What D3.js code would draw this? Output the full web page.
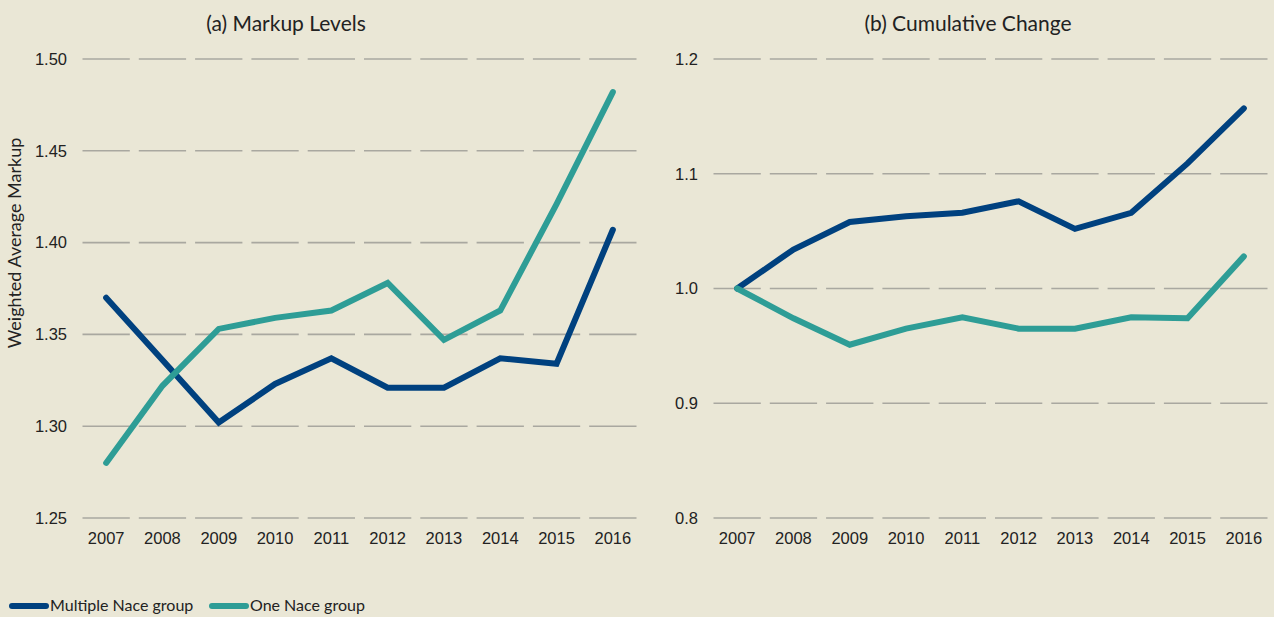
<!DOCTYPE html>
<html>
<head>
<meta charset="utf-8">
<script src="https://cdn.jsdelivr.net/npm/d3@7"></script>
<style>
  body { margin: 0; background: #eae7d6; }
  svg { display: block; font-family: Lato, 'Open Sans', sans-serif; }
  .tick text { font-size: 16.5px; fill: #222; }
  .title { font-size: 21px; fill: #222; }
  .label { font-size: 16px; fill: #222; }
</style>
</head>
<body>
<svg width="1274" height="617"></svg>
<script>
const years = ['2007', '2008', '2009', '2010', '2011', '2012', '2013', '2014', '2015', '2016'];

const levelsMultiple = [1.370, 1.336, 1.302, 1.323, 1.337, 1.321, 1.321, 1.337, 1.334, 1.407];
const levelsOne = [1.280, 1.322, 1.353, 1.359, 1.363, 1.378, 1.347, 1.363, 1.421, 1.482];

const changeMultiple = [1.0, 1.034, 1.058, 1.063, 1.066, 1.076, 1.052, 1.066, 1.109, 1.157];
const changeOne = [1.0, 0.974, 0.951, 0.965, 0.975, 0.965, 0.965, 0.975, 0.974, 1.028];

const levelTicks = [1.25, 1.30, 1.35, 1.40, 1.45, 1.50];
const changeTicks = [0.8, 0.9, 1.0, 1.1, 1.2];

const seriesNames = ['Multiple Nace group', 'One Nace group'];
const colors = ['#00417f', '#2e9d96'];

const svg = d3.select('svg');

svg.append('rect')
    .attr('width', 1274)
    .attr('height', 617)
    .attr('fill', '#eae7d6');

const plotTop = 59;
const plotBottom = 518;

function drawPanel(x0, x1, ticks, fmt, series, title, titleX) {
    const xScale = d3.scaleBand()
        .domain(years)
        .range([x0, x1]);

    const yScale = d3.scaleLinear()
        .domain([ticks[0], ticks[ticks.length - 1]])
        .range([plotBottom, plotTop]);

    const g = svg.append('g');

    // gridlines broken into one segment per year
    const bw = xScale.bandwidth();
    ticks.forEach((t) => {
        g.selectAll(null)
            .data(years)
            .enter()
            .append('line')
            .attr('x1', (d) => xScale(d) + 4.5)
            .attr('x2', (d) => xScale(d) + bw - 4.5)
            .attr('y1', yScale(t))
            .attr('y2', yScale(t))
            .attr('stroke', '#a9a8a0')
            .attr('stroke-width', 1.6);
    });

    const yAxis = g.append('g')
        .attr('transform', `translate(${x0 - 8}, 0)`)
        .call(d3.axisLeft(yScale).tickValues(ticks).tickFormat(fmt).tickSize(0));
    yAxis.select('.domain').remove();

    const xAxis = g.append('g')
        .attr('transform', `translate(0, ${plotBottom + 11})`)
        .call(d3.axisBottom(xScale).tickSize(0));
    xAxis.select('.domain').remove();

    const line = d3.line()
        .x((d, i) => xScale(years[i]) + bw / 2)
        .y((d) => yScale(d));

    series.forEach((s, i) => {
        g.append('path')
            .datum(s)
            .attr('fill', 'none')
            .attr('stroke', colors[i])
            .attr('stroke-width', 6)
            .attr('stroke-linejoin', 'miter')
            .attr('stroke-linecap', 'round')
            .attr('d', line);
    });

    svg.append('text')
        .attr('class', 'title')
        .attr('x', titleX)
        .attr('y', 31)
        .attr('text-anchor', 'middle')
        .text(title);
}

drawPanel(78, 641, levelTicks, d3.format('.2f'), [levelsMultiple, levelsOne], '(a) Markup Levels', 286);
drawPanel(709, 1272, changeTicks, d3.format('.1f'), [changeMultiple, changeOne], '(b) Cumulative Change', 968);

svg.append('text')
    .attr('class', 'label')
    .attr('transform', 'translate(21, 243) rotate(-90)')
    .attr('text-anchor', 'middle')
    .style('font-size', '18px')
    .text('Weighted Average Markup');

// legend
const legend = svg.append('g');
const legendX = [12, 212];
seriesNames.forEach((name, i) => {
    legend.append('line')
        .attr('x1', legendX[i])
        .attr('x2', legendX[i] + 34)
        .attr('y1', 606)
        .attr('y2', 606)
        .attr('stroke', colors[i])
        .attr('stroke-width', 6)
        .attr('stroke-linecap', 'round');
    legend.append('text')
        .attr('class', 'label')
        .attr('x', legendX[i] + 38)
        .attr('y', 611)
        .text(name);
});
</script>
</body>
</html>
